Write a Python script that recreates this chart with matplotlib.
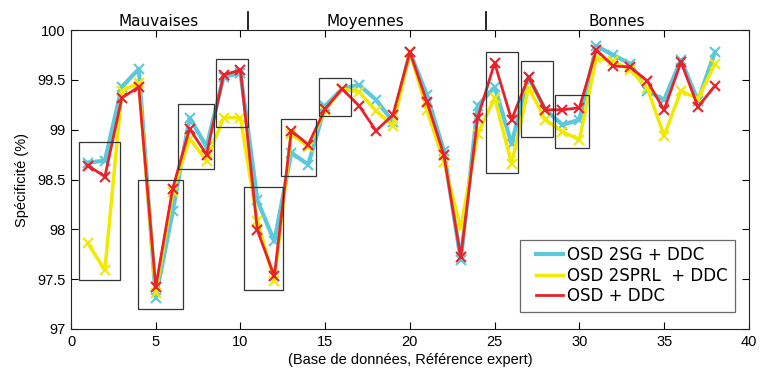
import matplotlib
matplotlib.use("Agg")
import matplotlib.pyplot as plt
from matplotlib.patches import Rectangle
from matplotlib.lines import Line2D
from matplotlib.legend_handler import HandlerLine2D

x = list(range(1, 39))

osd_2sg = [98.67, 98.69, 99.43, 99.61, 97.31, 98.18, 99.12, 98.83, 99.53, 99.57,
           98.29, 97.88, 98.77, 98.65, 99.24, 99.41, 99.45, 99.30, 99.08, 99.78,
           99.35, 98.79, 97.69, 99.24, 99.43, 98.86, 99.53, 99.20, 99.05, 99.10,
           99.84, 99.75, 99.66, 99.39, 99.30, 99.70, 99.29, 99.78]
osd_2sprl = [97.86, 97.59, 99.39, 99.47, 97.36, 98.37, 98.91, 98.69, 99.12, 99.12,
             98.08, 97.48, 98.96, 98.83, 99.20, 99.41, 99.38, 99.19, 99.04, 99.78,
             99.20, 98.68, 98.01, 98.96, 99.32, 98.66, 99.42, 99.10, 98.98, 98.90,
             99.72, 99.69, 99.60, 99.42, 98.94, 99.39, 99.31, 99.66]
osd_ddc = [98.64, 98.53, 99.32, 99.43, 97.42, 98.41, 99.01, 98.75, 99.55, 99.60,
           97.99, 97.53, 98.99, 98.85, 99.21, 99.41, 99.24, 98.99, 99.15, 99.78,
           99.28, 98.75, 97.72, 99.12, 99.67, 99.10, 99.53, 99.20, 99.20, 99.22,
           99.80, 99.64, 99.63, 99.49, 99.20, 99.68, 99.23, 99.44]

series_labels = ["OSD 2SG + DDC", "OSD 2SPRL  + DDC", "OSD + DDC"]
colors = ["#5cc8dc", "#f2e900", "#e8222a"]
widths = [3.0, 2.5, 2.0]

# highlighted groups: (xmin, xmax, ymin, ymax)
boxes = [(0.5, 2.9, 97.49, 98.88), (3.97, 6.6, 97.20, 98.50), (6.33, 8.45, 98.61, 99.26),
         (8.57, 10.45, 99.03, 99.71), (10.2, 12.53, 97.39, 98.43), (12.41, 14.48, 98.54, 99.11),
         (14.63, 16.5, 99.14, 99.52), (24.5, 26.4, 98.57, 99.78), (26.53, 28.42, 98.93, 99.69),
         (28.55, 30.55, 98.82, 99.35)]

group_labels = ["Mauvaises", "Moyennes", "Bonnes"]
group_centers = [5.2, 17.4, 32.2]
separators = [10.44, 24.5]

fig = plt.figure(figsize=(7.61, 3.81), dpi=100)
ax = fig.add_axes([0.0933, 0.1365, 0.8907, 0.7845])

tick_font = "Liberation Sans"
handles = []
for ys, lab, c, w in zip([osd_2sg, osd_2sprl, osd_ddc], series_labels, colors, widths):
    ax.plot(x, ys, color=c, lw=w, marker="x", ms=6.5, mew=1.5)
    handles.append(Line2D([], [], color=c, lw=w, label=lab))

for (x0, x1, y0, y1) in boxes:
    ax.add_patch(Rectangle((x0, y0), x1 - x0, y1 - y0, fill=False, ec="#333333", lw=0.9, zorder=5))

ax.set_xlim(0, 40)
ax.set_ylim(97, 100)
ax.set_xticks(range(0, 41, 5))
ax.set_yticks([97, 97.5, 98, 98.5, 99, 99.5, 100])
ax.set_yticklabels(["97", "97.5", "98", "98.5", "99", "99.5", "100"])
ax.tick_params(direction="in", top=True, right=True, length=5, width=0.8, labelsize=10.5, pad=4)
for lbl in ax.get_xticklabels() + ax.get_yticklabels():
    lbl.set_family(tick_font)
for s in ax.spines.values():
    s.set_linewidth(0.8)
    s.set_color("#222222")

ax.set_xlabel("(Base de données, Référence expert)", family=tick_font, fontsize=10.5, labelpad=3)
ax.set_ylabel("Spécificité (%)", family=tick_font, fontsize=10.5, labelpad=6)

for lab, cx in zip(group_labels, group_centers):
    ax.text(cx, 1.005, lab, transform=ax.get_xaxis_transform(), ha="center", va="bottom",
            fontsize=11, family="DejaVu Sans")
for sx in separators:
    ax.plot([sx, sx], [1.003, 1.06], transform=ax.get_xaxis_transform(), color="black",
            lw=1.2, clip_on=False)

leg = ax.legend(handles=handles, loc="lower right", bbox_to_anchor=(0.979, 0.057), fontsize=12,
                frameon=True, fancybox=False, edgecolor="#444444", handlelength=2.2,
                handletextpad=0.25, borderpad=0.4, labelspacing=0.15, borderaxespad=0,
                handler_map={Line2D: HandlerLine2D(xpad=0.55)})
leg.get_frame().set_linewidth(0.9)

fig.savefig("out.png", dpi=100)
